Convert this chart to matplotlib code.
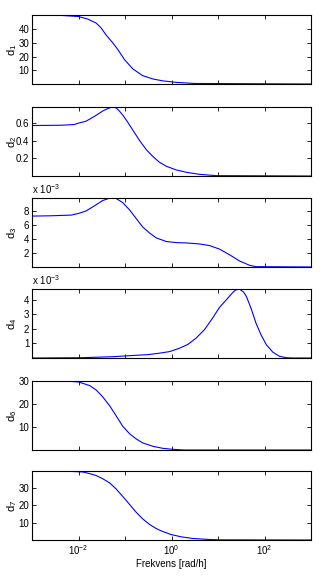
import numpy as np
import matplotlib
matplotlib.use("Agg")
import matplotlib.pyplot as plt

plt.rcParams['font.family'] = ['Liberation Sans', 'DejaVu Sans']
plt.rcParams['font.size'] = 7
plt.rcParams['mathtext.fontset'] = 'custom'
plt.rcParams['mathtext.rm'] = 'Liberation Sans'
plt.rcParams['mathtext.it'] = 'Liberation Sans'

# frequency exponents (log10 of rad/h) and magnitudes for each output
lf1 = [-3.0, -2.37, -2.0, -1.80, -1.62, -1.51, -1.41, -1.26, -1.15, -1.01, -0.83,
       -0.62, -0.40, -0.19, 0.10, 0.49, 3.0]
d1 = [50.5, 50.2, 49.4, 47.5, 44.6, 40.9, 36.0, 30.0, 25.0, 17.8, 11.0,
      6.1, 3.7, 2.3, 1.2, 0.4, 0.0]

lf2 = [-3.0, -2.34, -2.09, -2.0, -1.84, -1.66, -1.48, -1.41, -1.30, -1.24, -1.18,
       -1.12, -1.05, -0.97, -0.83, -0.69, -0.54, -0.40, -0.26, -0.11, 0.10, 0.32,
       0.60, 0.96, 3.0]
d2 = [0.571, 0.575, 0.583, 0.598, 0.62, 0.674, 0.735, 0.754, 0.777, 0.781, 0.766,
      0.735, 0.69, 0.632, 0.518, 0.404, 0.297, 0.221, 0.156, 0.110, 0.069, 0.042,
      0.019, 0.004, 0.0]

lf3 = [-3.0, -2.62, -2.16, -2.0, -1.84, -1.66, -1.48, -1.33, -1.26, -1.19, -1.05,
       -0.90, -0.76, -0.62, -0.47, -0.33, -0.11, 0.10, 0.32, 0.60, 0.82, 1.03,
       1.25, 1.46, 1.68, 1.82, 3.0]
d3 = [7.26, 7.30, 7.40, 7.64, 7.98, 8.71, 9.48, 9.82, 9.84, 9.77, 9.19,
      8.13, 6.92, 5.71, 4.84, 4.16, 3.63, 3.48, 3.43, 3.29, 3.05, 2.56,
      1.74, 0.87, 0.24, 0.05, 0.0]

lf4 = [-3.0, -1.94, -1.26, -0.90, -0.51, -0.26, -0.04, 0.17, 0.35, 0.53, 0.71,
       0.89, 1.03, 1.18, 1.32, 1.38, 1.46, 1.55, 1.61, 1.71, 1.82, 1.93, 2.04,
       2.18, 2.32, 2.47, 2.61, 3.0]
d4 = [0.0, 0.02, 0.09, 0.16, 0.23, 0.33, 0.44, 0.67, 0.93, 1.37, 1.95,
      2.77, 3.47, 4.00, 4.51, 4.67, 4.74, 4.53, 4.23, 3.42, 2.37, 1.56, 0.91,
      0.40, 0.12, 0.02, 0.0, 0.0]

lf6 = [-3.0, -2.23, -2.0, -1.91, -1.76, -1.62, -1.48, -1.33, -1.19, -1.05, -0.90,
       -0.76, -0.62, -0.40, -0.19, 0.03, 0.28, 3.0]
d6 = [30.1, 30.0, 29.7, 29.1, 28.1, 26.2, 23.2, 19.3, 14.9, 10.4, 7.06,
      4.85, 3.09, 1.62, 0.74, 0.29, 0.0, 0.0]

lf7 = [-3.0, -2.19, -1.91, -1.76, -1.62, -1.48, -1.33, -1.19, -1.05, -0.90, -0.76,
       -0.62, -0.47, -0.33, -0.19, -0.01, 0.21, 0.46, 0.82, 1.03, 3.0]
d7 = [39.5, 39.3, 38.95, 38.0, 36.9, 35.1, 32.7, 29.2, 25.0, 20.3, 15.9,
      12.1, 8.86, 6.57, 4.86, 3.14, 1.81, 0.86, 0.29, 0.1, 0.0]

labels = ['d$_1$', 'd$_2$', 'd$_3$', 'd$_4$', 'd$_6$', 'd$_7$']
yticks = [[10, 20, 30, 40], [0.2, 0.4, 0.6], [2, 4, 6, 8], [1, 2, 3, 4],
          [10, 20, 30], [10, 20, 30]]
scaled = [False, False, True, True, False, False]

series = [(lf1, d1), (lf2, d2), (lf3, d3), (lf4, d4), (lf6, d6), (lf7, d7)]

fig = plt.figure(figsize=(3.35, 5.76), dpi=100)
W, H = 335.0, 576.0
tops = [15, 107, 198, 289, 381, 471]
h_px = 69
left, right = 32, 311

xt = [1e-2, 1e-1, 1e0, 1e1, 1e2]
xtl = ['10$^{-2}$', '', '10$^{0}$', '', '10$^{2}$']

for i, (lf, d) in enumerate(series):
    ax = fig.add_axes([left / W, 1 - (tops[i] + h_px) / H, (right - left) / W, h_px / H])
    f = 10.0 ** np.array(lf)
    y = np.array(d) * (1e-3 if scaled[i] else 1.0)
    ax.semilogx(f, y, color='#0000ff', lw=0.8)
    ax.set_xlim(1e-3, 1e3)
    ax.set_ylim(y.min(), y.max())
    ax.set_xticks(xt)
    ax.xaxis.set_minor_locator(matplotlib.ticker.NullLocator())
    if scaled[i]:
        ax.set_yticks(np.array(yticks[i]) * 1e-3)
        ax.set_yticklabels([str(v) for v in yticks[i]])
        # exponent note above the axes
        ax.text(0.0, 1.03, 'x 10$^{-3}$', transform=ax.transAxes,
                ha='left', va='bottom', fontsize=7)
    else:
        ax.set_yticks(yticks[i])
        ax.set_yticklabels([('%g' % v) for v in yticks[i]])
    if i == len(series) - 1:
        ax.set_xticklabels(xtl)
        ax.set_xlabel('Frekvens [rad/h]', labelpad=2)
    else:
        ax.set_xticklabels([])
    ax.tick_params(direction='in', top=True, right=True, length=3, width=0.6,
                   pad=2, labelsize=7)
    for s in ax.spines.values():
        s.set_linewidth(0.8)
    ax.set_ylabel(labels[i], fontsize=8)
    ax.yaxis.set_label_coords(-0.045, 0.5)

fig.savefig('out.png', dpi=100)
